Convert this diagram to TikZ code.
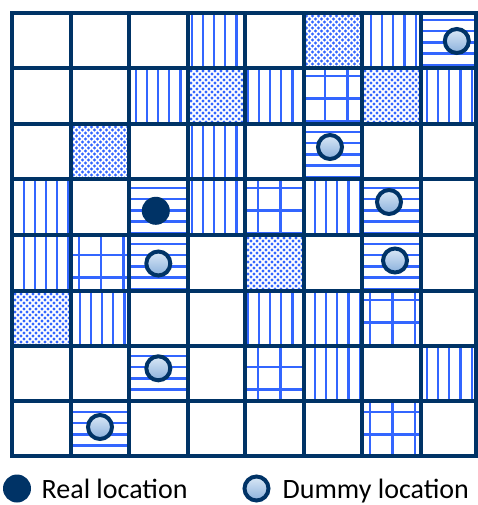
\documentclass[tikz,border=0pt]{standalone}
\usepackage{fontspec}
\setmainfont{Carlito}
\definecolor{navy}{RGB}{0,51,102}
\definecolor{stripeblue}{RGB}{51,102,255}
\definecolor{dumtop}{RGB}{218,232,246}
\definecolor{dumbot}{RGB}{138,176,220}

\def\XL{{12,70.5,129,188,245,303.5,362,420.5,475.5}}
\def\YL{{13,68,124,179,235,291,346,401,456}}

\newcommand\getcell[2]{%
  \pgfmathsetmacro\cxa{\XL[#1]}\pgfmathsetmacro\cxb{\XL[#1+1]}%
  \pgfmathsetmacro\cya{\YL[#2]}\pgfmathsetmacro\cyb{\YL[#2+1]}}

\newcommand\vcell[2]{\getcell{#1}{#2}%
  \begin{scope}
  \clip (\cxa,-\cya) rectangle (\cxb,-\cyb);
  \pgfmathtruncatemacro\ka{floor((\cxa-1.3)/11.2)}%
  \foreach \k in {0,...,6}{\draw[stripe] ({1.3+11.2*(\ka+\k)},-\cya) -- ({1.3+11.2*(\ka+\k)},-\cyb);}
  \end{scope}}

\newcommand\hcell[2]{\getcell{#1}{#2}%
  \begin{scope}
  \clip (\cxa,-\cya) rectangle (\cxb,-\cyb);
  \pgfmathtruncatemacro\ka{floor((\cya-8.8)/11.2)}%
  \foreach \k in {0,...,6}{\draw[stripe] (\cxa,{-(8.8+11.2*(\ka+\k))}) -- (\cxb,{-(8.8+11.2*(\ka+\k))});}
  \end{scope}}

\newcommand\gcell[2]{\getcell{#1}{#2}%
  \begin{scope}
  \clip (\cxa,-\cya) rectangle (\cxb,-\cyb);
  \pgfmathtruncatemacro\ka{floor((\cxa-11.6)/22.4)}%
  \pgfmathtruncatemacro\kb{floor((\cya-8.8)/22.4)}%
  \foreach \k in {0,...,3}{\draw[stripe] ({11.6+22.4*(\ka+\k)},-\cya) -- ({11.6+22.4*(\ka+\k)},-\cyb);}
  \foreach \k in {0,...,3}{\draw[stripe] (\cxa,{-(8.8+22.4*(\kb+\k))}) -- (\cxb,{-(8.8+22.4*(\kb+\k))});}
  \end{scope}}

\newcommand\dcell[2]{\getcell{#1}{#2}%
  \begin{scope}
  \clip (\cxa,-\cya) rectangle (\cxb,-\cyb);
  \foreach \i in {0,...,10}{\foreach \j in {0,...,10}{%
    \fill[dotfill] ({\cxa+6*\i},{-\cya-6*\j}) circle (1.7)
                   ({\cxa+6*\i+3},{-\cya-6*\j-3}) circle (1.7);}}
  \end{scope}}

\begin{document}
\begin{tikzpicture}[x=1pt,y=1pt,
  stripe/.style={draw=stripeblue, line width=2.3pt},
  dotfill/.style={fill=stripeblue},
  gridline/.style={draw=navy, line width=4pt, line cap=rect},
  dummy/.style={circle, draw=navy, line width=4pt, top color=dumtop, bottom color=dumbot, minimum size=24pt, inner sep=0pt},
  realdot/.style={circle, fill=navy, minimum size=28pt, inner sep=0pt},
  legendtext/.style={font=\fontsize{28}{30}\selectfont, text=black, inner sep=0pt, anchor=base west}]
\useasboundingbox (0,0) rectangle (478,-505);
\fill[white] (0,0) rectangle (478,-505);

% row 0
\vcell{3}{0}\dcell{5}{0}\vcell{6}{0}\hcell{7}{0}
% row 1
\vcell{2}{1}\dcell{3}{1}\vcell{4}{1}\gcell{5}{1}\dcell{6}{1}\vcell{7}{1}
% row 2
\dcell{1}{2}\vcell{3}{2}\hcell{5}{2}
% row 3
\vcell{0}{3}\hcell{2}{3}\vcell{3}{3}\gcell{4}{3}\vcell{5}{3}\hcell{6}{3}
% row 4
\vcell{0}{4}\gcell{1}{4}\hcell{2}{4}\dcell{4}{4}\hcell{6}{4}
% row 5
\dcell{0}{5}\vcell{1}{5}\vcell{4}{5}\vcell{5}{5}\gcell{6}{5}
% row 6
\hcell{2}{6}\gcell{4}{6}\vcell{5}{6}\vcell{7}{6}
% row 7
\hcell{1}{7}\gcell{6}{7}

% grid lines
\foreach \i in {0,...,8}{\pgfmathsetmacro\gx{\XL[\i]}\draw[gridline] (\gx,-13) -- (\gx,-456);}
\foreach \i in {0,...,8}{\pgfmathsetmacro\gy{\YL[\i]}\draw[gridline] (12,-\gy) -- (475.5,-\gy);}

% locations
\node[realdot] (real) at (155.8,-210.8) {};
\node[dummy] (d1) at (456.8,-41) {};
\node[dummy] (d2) at (330,-147) {};
\node[dummy] (d3) at (389,-202) {};
\node[dummy] (d4) at (395,-260.5) {};
\node[dummy] (d5) at (158.3,-263.5) {};
\node[dummy] (d6) at (158.3,-368.3) {};
\node[dummy] (d7) at (100,-427) {};

% legend
\node[realdot] (lgreal) at (17,-488.5) {};
\node[legendtext] (lgrealtext) at (41.5,-498) {Real location};
\node[dummy] (lgdummy) at (256.5,-488.5) {};
\node[legendtext] (lgdummytext) at (282.5,-498) {Dummy location};
\end{tikzpicture}
\end{document}
